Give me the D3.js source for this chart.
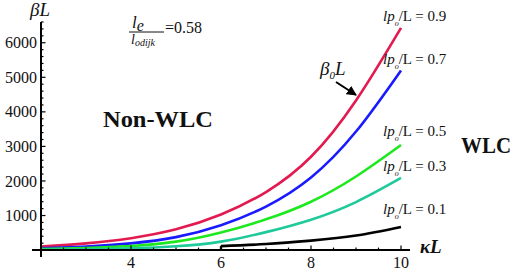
<!DOCTYPE html>
<html><head><meta charset="utf-8">
<script src="https://cdn.jsdelivr.net/npm/d3@7"></script>
<style>
html,body{margin:0;padding:0;background:#fff;}
svg{display:block;}
text{font-family:"Liberation Serif","DejaVu Serif",serif;fill:#111;}
</style></head>
<body>
<svg id="c" width="517" height="277"></svg>
<script>
const kL = [2, 3, 4, 5, 6, 7, 8, 9, 10];
const red09   = [100, 195, 345, 600, 1030, 1680, 2700, 4330, 6430];
const blue07  = [50, 100, 195, 375, 720, 1260, 2100, 3430, 5200];
const green05 = [30, 62, 120, 245, 510, 890, 1400, 2130, 3040];
const teal03  = [10, 25, 50, 110, 245, 520, 880, 1390, 2087];
const blackKL = [6, 6, 7, 8, 9, 10];
const black01 = [0, 115, 175, 275, 420, 670];
const seriesNames = ["0.9", "0.7", "0.5", "0.3", "0.1"];
const colors = ["#e31a4f", "#1a1aff", "#1ee81e", "#1ec99a", "#000000"];
const xTicks = [4, 6, 8, 10];
const yTicks = [1000, 2000, 3000, 4000, 5000, 6000];

const svg = d3.select("#c");
const x = d3.scaleLinear().domain([1.8, 10.2]).range([32, 410]);
const y = d3.scaleLinear().domain([-200, 6600]).range([257, 22]);

const line = d3.line().x(d => x(d[0])).y(d => y(d[1])).curve(d3.curveNatural);
const series = [
  d3.zip(kL, red09), d3.zip(kL, blue07), d3.zip(kL, green05), d3.zip(kL, teal03)
];
series.forEach((s, i) => {
  svg.append("path").attr("d", line(s)).attr("fill", "none")
    .attr("stroke", colors[i]).attr("stroke-width", 2.6);
});
const blk = d3.zip(blackKL, black01);
svg.append("path").attr("d", d3.line().x(d => x(d[0])).y(d => y(d[1]))(blk.slice(0, 2)))
  .attr("fill", "none").attr("stroke", "#000").attr("stroke-width", 2.4);
svg.append("path").attr("d", line(blk.slice(1))).attr("fill", "none")
  .attr("stroke", colors[4]).attr("stroke-width", 2.6);

// axes
const x0 = x(2), y0 = y(0);
svg.append("line").attr("x1", x(1.8)).attr("x2", x(10.2)).attr("y1", y0).attr("y2", y0)
  .attr("stroke", "#000").attr("stroke-width", 2);
svg.append("line").attr("x1", x0).attr("x2", x0).attr("y1", y(-200)).attr("y2", y(6600))
  .attr("stroke", "#000").attr("stroke-width", 2);

// x ticks
const xMinor = d3.range(2.5, 10.01, 0.5);
xMinor.forEach(v => {
  const major = xTicks.includes(v);
  svg.append("line").attr("x1", x(v)).attr("x2", x(v)).attr("y1", y0).attr("y2", y0 - (major ? 4.5 : 2.5))
    .attr("stroke", "#000").attr("stroke-width", 1.2);
});
xTicks.forEach(v => {
  svg.append("text").attr("x", x(v)).attr("y", 268).attr("text-anchor", "middle")
    .attr("font-size", 16).text(v);
});
// y ticks
const yMinor = d3.range(200, 6601, 200);
yMinor.forEach(v => {
  const major = yTicks.includes(v);
  svg.append("line").attr("x1", x0).attr("x2", x0 + (major ? 4.5 : 2.5)).attr("y1", y(v)).attr("y2", y(v))
    .attr("stroke", "#000").attr("stroke-width", 1.2);
});
yTicks.forEach(v => {
  svg.append("text").attr("x", 37).attr("y", y(v)).attr("dy", "0.35em").attr("text-anchor", "end")
    .attr("font-size", 16).text(v);
});

// axis labels
svg.append("text").attr("x", 30).attr("y", 16).attr("font-size", 19).attr("font-style", "italic").text("βL");
svg.append("text").attr("x", 420).attr("y", 253).attr("font-size", 19).attr("font-style", "italic")
  .attr("font-weight", "bold").text("κL");

// fraction
const fr = svg.append("g");
fr.append("text").attr("x", 132).attr("y", 28).attr("font-size", 17).attr("font-style", "italic")
  .call(t => { t.append("tspan").text("l"); t.append("tspan").attr("dy", 3).attr("font-size", 16).text("e"); });
fr.append("line").attr("x1", 129).attr("x2", 164).attr("y1", 32).attr("y2", 32).attr("stroke", "#111").attr("stroke-width", 1);
fr.append("text").attr("x", 131).attr("y", 44).attr("font-size", 14).attr("font-style", "italic")
  .call(t => { t.append("tspan").text("l"); t.append("tspan").attr("dy", 2).attr("font-size", 10).text("odijk"); });
fr.append("text").attr("x", 165).attr("y", 33).attr("font-size", 16).text("=0.58");

// region labels
svg.append("text").attr("x", 103).attr("y", 127).attr("font-size", 24).attr("font-weight", "bold")
  .attr("textLength", 110).attr("lengthAdjust", "spacingAndGlyphs").text("Non-WLC");
svg.append("text").attr("x", 461).attr("y", 153).attr("font-size", 23).attr("font-weight", "bold")
  .attr("textLength", 50).attr("lengthAdjust", "spacingAndGlyphs").text("WLC");

// series labels
const labelY = [21, 64, 136, 171, 214];
seriesNames.forEach((n, i) => {
  const t = svg.append("text").attr("x", 383).attr("y", labelY[i]).attr("font-size", 15);
  t.append("tspan").attr("font-style", "italic").text("lp");
  t.append("tspan").attr("dy", 5).attr("font-size", 8).attr("font-style", "italic").text("o");
  t.append("tspan").attr("dy", -5).text("/L = " + n);
});

// beta0 L annotation
const b = svg.append("text").attr("x", 320).attr("y", 75).attr("font-size", 19).attr("font-style", "italic");
b.append("tspan").text("β");
b.append("tspan").attr("dy", 4).attr("font-size", 11).text("0");
b.append("tspan").attr("dy", -4).text("L");
svg.append("defs").append("marker").attr("id", "ah").attr("viewBox", "0 0 10 10").attr("refX", 9).attr("refY", 5)
  .attr("markerWidth", 5).attr("markerHeight", 5).attr("orient", "auto")
  .append("path").attr("d", "M0,0L10,5L0,10z").attr("fill", "#000");
svg.append("line").attr("x1", 336).attr("y1", 82).attr("x2", 356).attr("y2", 95)
  .attr("stroke", "#000").attr("stroke-width", 2).attr("marker-end", "url(#ah)");
</script>
</body></html>
